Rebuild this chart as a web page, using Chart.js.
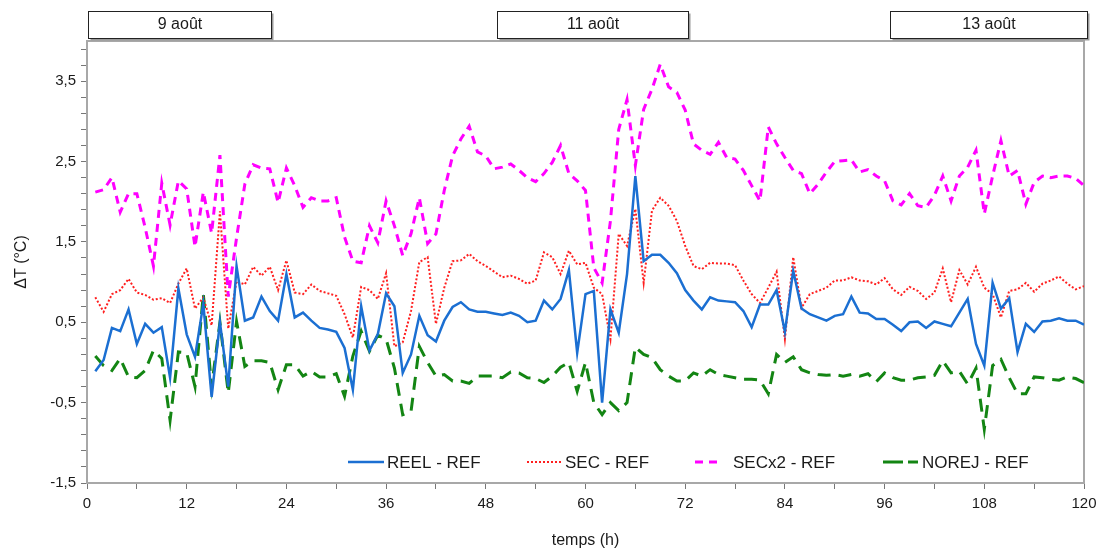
<!DOCTYPE html>
<html lang="fr">
<head>
<meta charset="UTF-8">
<title>Écarts de température par rapport à REF</title>
<script src="https://cdn.jsdelivr.net/npm/chart.js"></script>
<style>
  html, body { margin: 0; padding: 0; background: #fff; }
</style>
</head>
<body>
<canvas id="deltaChart" width="1104" height="553"></canvas>
<script>
// heures de mesure (pas horaire)
const hours = Array.from({ length: 120 }, (_, i) => i + 1);

const reelRef = [
  -0.11, 0.03, 0.43, 0.39, 0.66, 0.23, 0.48, 0.37, 0.44, -0.19,
  0.92, 0.35, 0.07, 0.73, -0.43, 0.50, -0.30, 1.20, 0.52, 0.56,
  0.82, 0.64, 0.52, 1.10, 0.56, 0.62, 0.52, 0.43, 0.41, 0.38,
  0.18, -0.34, 0.70, 0.15, 0.35, 0.86, 0.70, -0.13, 0.10, 0.58,
  0.34, 0.26, 0.52, 0.69, 0.75, 0.66, 0.63, 0.63, 0.61, 0.59,
  0.62, 0.58, 0.50, 0.52, 0.77, 0.66, 0.79, 1.15, 0.12, 0.85,
  0.89, -0.50, 0.66, 0.37, 1.10, 2.32, 1.26, 1.34, 1.34, 1.24,
  1.11, 0.90, 0.77, 0.66, 0.81, 0.77, 0.76, 0.75, 0.64, 0.44,
  0.72, 0.72, 0.90, 0.38, 1.14, 0.67, 0.60, 0.56, 0.52, 0.58,
  0.60, 0.82, 0.62, 0.61, 0.54, 0.54, 0.47, 0.39, 0.50, 0.51,
  0.43, 0.51, 0.48, 0.45, 0.62, 0.79, 0.23, -0.04, 0.99, 0.67,
  0.80, 0.13, 0.48, 0.38, 0.51, 0.52, 0.55, 0.52, 0.52, 0.47
];

const secRef = [
  0.81, 0.63, 0.85, 0.90, 1.04, 0.87, 0.84, 0.78, 0.80, 0.74,
  0.98, 1.17, 0.67, 0.81, 0.46, 1.88, 0.42, 1.01, 0.97, 1.19,
  1.08, 1.19, 0.90, 1.27, 0.87, 0.85, 0.97, 0.89, 0.86, 0.83,
  0.60, 0.31, 0.94, 0.90, 0.79, 1.11, 0.20, 0.25, 0.64, 1.25,
  1.31, 0.48, 0.93, 1.26, 1.27, 1.35, 1.26, 1.20, 1.13, 1.06,
  1.08, 1.04, 0.98, 1.02, 1.37, 1.31, 1.10, 1.39, 1.22, 1.24,
  0.93, 0.85, 0.29, 1.60, 1.45, 1.91, 0.99, 1.89, 2.05, 1.95,
  1.76, 1.45, 1.20, 1.16, 1.24, 1.23, 1.23, 1.21, 1.02, 0.85,
  0.74, 0.93, 1.13, 0.29, 1.31, 0.68, 0.85, 0.89, 0.93, 1.02,
  1.02, 1.06, 1.02, 1.01, 0.97, 1.05, 0.91, 0.84, 0.94, 0.89,
  0.79, 0.87, 1.17, 0.75, 1.15, 0.97, 1.19, 0.93, 0.85, 0.56,
  0.89, 0.91, 0.99, 0.88, 0.98, 1.02, 1.07, 0.98, 0.91, 0.95
];

const secx2Ref = [
  2.12, 2.15, 2.30, 1.87, 2.10, 2.10, 1.68, 1.20, 2.23, 1.71,
  2.26, 2.16, 1.44, 2.12, 1.61, 2.58, 0.82, 1.55, 2.22, 2.46,
  2.42, 2.41, 1.99, 2.42, 2.20, 1.93, 2.05, 2.01, 2.01, 2.05,
  1.56, 1.26, 1.24, 1.70, 1.49, 2.01, 1.70, 1.33, 1.60, 2.05,
  1.48, 1.60, 2.14, 2.57, 2.78, 2.94, 2.62, 2.57, 2.41, 2.43,
  2.47, 2.39, 2.30, 2.25, 2.35, 2.49, 2.70, 2.35, 2.26, 2.14,
  1.18, 0.99, 1.76, 2.90, 3.27, 2.45, 3.15, 3.40, 3.71, 3.43,
  3.36, 3.14, 2.72, 2.64, 2.59, 2.74, 2.55, 2.53, 2.39, 2.20,
  2.01, 2.93, 2.72, 2.55, 2.39, 2.35, 2.10, 2.22, 2.37, 2.50,
  2.51, 2.52, 2.37, 2.40, 2.32, 2.26, 2.01, 1.96, 2.10, 1.95,
  1.93, 2.08, 2.32, 2.01, 2.32, 2.43, 2.64, 1.85, 2.32, 2.76,
  2.32, 2.39, 1.97, 2.24, 2.32, 2.30, 2.32, 2.32, 2.29, 2.20
];

const norejRef = [
  0.08, -0.04, -0.10, 0.05, -0.18, -0.19, -0.10, 0.15, 0.05, -0.72,
  0.13, 0.12, -0.30, 0.85, -0.30, 0.50, -0.38, 0.51, -0.05, 0.02,
  0.02, 0.00, -0.34, -0.03, -0.03, -0.17, -0.11, -0.18, -0.18, -0.14,
  -0.42, 0.08, 0.39, 0.14, 0.34, 0.29, -0.07, -0.65, -0.61, 0.20,
  0.00, -0.17, -0.15, -0.23, -0.23, -0.26, -0.17, -0.17, -0.17, -0.19,
  -0.12, -0.13, -0.19, -0.20, -0.25, -0.17, -0.06, 0.00, -0.36, 0.00,
  -0.50, -0.65, -0.50, -0.60, -0.50, 0.19, 0.10, 0.06, -0.09, -0.17,
  -0.23, -0.23, -0.13, -0.17, -0.09, -0.15, -0.17, -0.19, -0.21, -0.21,
  -0.22, -0.39, 0.10, 0.00, 0.07, -0.09, -0.13, -0.15, -0.16, -0.15,
  -0.17, -0.15, -0.17, -0.14, -0.24, -0.13, -0.19, -0.22, -0.22, -0.19,
  -0.18, -0.16, 0.02, -0.13, -0.11, -0.27, -0.07, -0.83, -0.04, 0.04,
  -0.19, -0.39, -0.39, -0.18, -0.19, -0.21, -0.22, -0.18, -0.20, -0.25
];

// bandeaux des jours (en heures)
const dayLabels = ['9 août', '11 août', '13 août'];
const dayStart = [0.1, 49.4, 96.7];
const dayEnd = [22.2, 72.3, 120.4];

const toPoints = (arr) => arr.map((v, i) => ({ x: hours[i], y: v }));

Chart.defaults.font.family = "'Liberation Sans', Arial, sans-serif";
Chart.defaults.font.size = 15;
Chart.defaults.color = '#1a1a1a';

const frameColor = '#a8a8a8';

// cadre gris autour de la zone de tracé
const framePlugin = {
  id: 'framePlugin',
  beforeDatasetsDraw(chart) {
    const { ctx, chartArea: a } = chart;
    ctx.save();
    ctx.strokeStyle = frameColor;
    ctx.lineWidth = 2;
    ctx.strokeRect(a.left, a.top, a.right - a.left, a.bottom - a.top);
    ctx.restore();
  }
};

// encadrés des dates au-dessus du graphe
const dayBoxes = {
  id: 'dayBoxes',
  afterDraw(chart) {
    const { ctx } = chart;
    const xs = chart.scales.x;
    ctx.save();
    dayLabels.forEach((lab, i) => {
      const x0 = Math.round(xs.getPixelForValue(dayStart[i])) + 0.5;
      const x1 = Math.round(xs.getPixelForValue(dayEnd[i])) + 0.5;
      const y0 = 11.5, h = 27;
      ctx.fillStyle = '#9a9a9a';
      ctx.fillRect(x0 + 2, y0 + 2, x1 - x0, h);
      ctx.fillStyle = '#fff';
      ctx.fillRect(x0, y0, x1 - x0, h);
      ctx.strokeStyle = '#222';
      ctx.lineWidth = 1;
      ctx.strokeRect(x0, y0, x1 - x0, h);
      ctx.fillStyle = '#1a1a1a';
      ctx.font = "16px 'Liberation Sans', Arial, sans-serif";
      ctx.textAlign = 'center';
      ctx.textBaseline = 'middle';
      ctx.fillText(lab, (x0 + x1) / 2, y0 + h / 2);
    });
    ctx.restore();
  }
};

// légende dessinée dans la zone de tracé, en bas
const innerLegend = {
  id: 'innerLegend',
  afterDatasetsDraw(chart) {
    const { ctx, chartArea: a } = chart;
    const y = a.bottom - 21;
    const starts = [348, 527, 695, 883];
    const lens = [36, 34, 28, 35];
    const gaps = [3, 4, 10, 4];
    ctx.save();
    chart.data.datasets.forEach((ds, i) => {
      const x = starts[i];
      ctx.beginPath();
      ctx.strokeStyle = ds.borderColor;
      ctx.lineWidth = ds.borderWidth;
      ctx.setLineDash(i === 3 ? [20, 5] : (ds.borderDash || []));
      ctx.moveTo(x, y);
      ctx.lineTo(x + lens[i], y);
      ctx.stroke();
      ctx.setLineDash([]);
      ctx.fillStyle = '#1a1a1a';
      ctx.font = "17px 'Liberation Sans', Arial, sans-serif";
      ctx.textAlign = 'left';
      ctx.textBaseline = 'middle';
      ctx.fillText(ds.label, x + lens[i] + gaps[i], y + 1);
    });
    ctx.restore();
  }
};

new Chart(document.getElementById('deltaChart'), {
  type: 'line',
  data: {
    datasets: [
      {
        label: 'REEL - REF',
        data: toPoints(reelRef),
        borderColor: '#1b6fd2',
        borderWidth: 2.5,
        pointRadius: 0
      },
      {
        label: 'SEC - REF',
        data: toPoints(secRef),
        borderColor: '#ff1f1f',
        borderWidth: 2,
        borderDash: [2, 2],
        pointRadius: 0
      },
      {
        label: 'SECx2 - REF',
        data: toPoints(secx2Ref),
        borderColor: '#ff00ff',
        borderWidth: 3,
        borderDash: [8, 6],
        pointRadius: 0
      },
      {
        label: 'NOREJ - REF',
        data: toPoints(norejRef),
        borderColor: '#138513',
        borderWidth: 3,
        borderDash: [13, 8],
        pointRadius: 0
      }
    ]
  },
  options: {
    responsive: false,
    animation: false,
    layout: { padding: { top: 41, right: 20, left: 0, bottom: 0 } },
    plugins: {
      legend: { display: false },
      tooltip: { enabled: false }
    },
    scales: {
      x: {
        type: 'linear',
        min: 0,
        max: 120,
        ticks: {
          stepSize: 6,
          autoSkip: false,
          maxRotation: 0,
          padding: 6,
          callback: (v) => (v % 12 === 0 ? String(v) : '')
        },
        grid: { drawOnChartArea: false, color: '#777', tickLength: 6 },
        border: { color: frameColor, width: 2 },
        title: { display: true, text: 'temps (h)', font: { size: 16 }, padding: { top: 0, bottom: 3 } },
        afterFit: (s) => { s.height = 70; }
      },
      y: {
        min: -1.5,
        max: 4.0,
        afterBuildTicks: (s) => {
          const t = [];
          for (let k = 0; -1.5 + 0.2 * k <= 4.0001; k++) t.push({ value: Math.round((-1.5 + 0.2 * k) * 10) / 10 });
          s.ticks = t;
        },
        ticks: {
          padding: 5,
          autoSkip: false,
          callback: (v) => {
            const k = Math.round((v + 1.5) / 0.2);
            return k % 5 === 0 ? v.toFixed(1).replace('.', ',') : '';
          }
        },
        grid: { drawOnChartArea: false, color: '#777', tickLength: 6 },
        border: { color: frameColor, width: 2 },
        title: { display: true, text: 'ΔT (°C)', font: { size: 16 }, padding: { top: 12, bottom: 0 } },
        afterFit: (s) => { s.width = 87; }
      }
    }
  },
  plugins: [framePlugin, innerLegend, dayBoxes]
});
</script>
</body>
</html>
